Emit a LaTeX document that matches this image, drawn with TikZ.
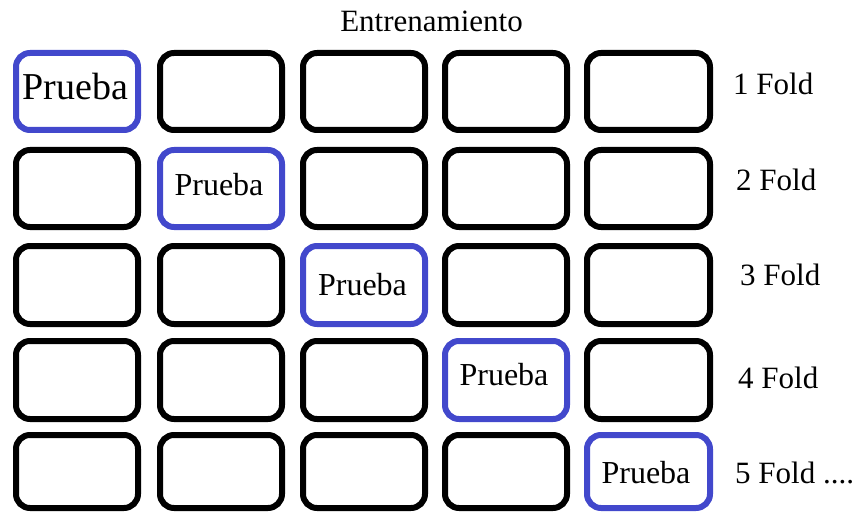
\documentclass[tikz,border=0pt]{standalone}
\usepackage{fontspec}
\setmainfont{Liberation Serif}
\definecolor{foldblue}{RGB}{66,72,204}
\begin{document}
\begin{tikzpicture}[x=1pt,y=-1pt,
  cell/.style={draw=black, line width=6pt, rounded corners=14pt, rectangle, inner sep=0pt},
  testcell/.style={cell, draw=foldblue},
  foldlbl/.style={font=\fontsize{31}{31}\selectfont, anchor=base west, inner sep=0pt},
  testlbl/.style={font=\fontsize{32}{32}\selectfont, anchor=base, inner sep=0pt},
  biglbl/.style={font=\fontsize{38}{38}\selectfont, anchor=base, inner sep=0pt},
  title/.style={font=\fontsize{31}{31}\selectfont, anchor=base, inner sep=0pt}]
\useasboundingbox (0,0) rectangle (862,516);
\foreach \r/\t/\b in {1/50/133, 2/147/230, 3/243/327, 4/338/422, 5/432/511}{
  \foreach \c/\l/\rr in {1/13/141, 2/157/285, 3/300/428, 4/442/570, 5/584/713}{
    \pgfmathsetmacro{\cx}{(\l+\rr)/2}
    \pgfmathsetmacro{\cy}{(\t+\b)/2}
    \pgfmathsetmacro{\w}{\rr-\l-6}
    \pgfmathsetmacro{\h}{\b-\t-6}
    \ifnum\r=\c
      \node[testcell, minimum width=\w pt, minimum height=\h pt] (b\r\c) at (\cx,\cy) {};
    \else
      \node[cell, minimum width=\w pt, minimum height=\h pt] (b\r\c) at (\cx,\cy) {};
    \fi
  }
}
\node[title] (t) at (431.5,32) {Entrenamiento};
\node[biglbl] (p1) at (75.5,100) {Prueba};
\node[testlbl] (p2) at (219,195) {Prueba};
\node[testlbl] (p3) at (362.5,295) {Prueba};
\node[testlbl] (p4) at (504,385) {Prueba};
\node[testlbl] (p5) at (646,483) {Prueba};
\node[foldlbl] (f1) at (733,95) {1 Fold};
\node[foldlbl] (f2) at (736,190) {2 Fold};
\node[foldlbl] (f3) at (740,285) {3 Fold};
\node[foldlbl] (f4) at (738,388) {4 Fold};
\node[foldlbl] (f5) at (735,483) {5 Fold ....};
\end{tikzpicture}
\end{document}
